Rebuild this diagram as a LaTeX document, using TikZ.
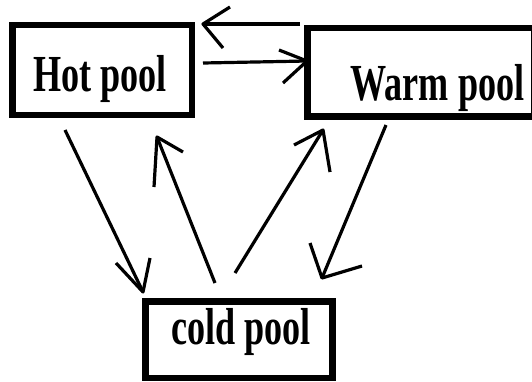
\documentclass[tikz,border=0pt]{standalone}
\usepackage{fontspec}
\setmainfont{Liberation Serif}
\usepackage{graphicx}
\tikzset{
  box/.style={draw=black, line width=6.5pt, rectangle, inner sep=0pt, fill=none},
  lbl/.style={anchor=base, inner sep=0pt, font=\bfseries},
  conn/.style={draw=black, line width=3.2pt, line join=round}
}
\newcommand{\pooltext}[1]{\scalebox{0.695}[1]{\fontsize{52}{52}\selectfont\bfseries #1}}
\begin{document}
\begin{tikzpicture}[x=1pt,y=-1pt]
\useasboundingbox (0,0) rectangle (532,381);
\clip (0,0) rectangle (532,381);
% boxes
\node[box, minimum width=179.5pt, minimum height=90pt] (hot) at (102.25,70) {};
\node[box, minimum width=226.5pt, minimum height=88.5pt] (warm) at (420.75,72.25) {};
\node[box, minimum width=187pt, minimum height=76.5pt] (cold) at (239,339.75) {};
% labels
\node[lbl] (hotl) at (100,91) {\pooltext{Hot pool}};
\node[lbl] (warml) at (437.5,100) {\pooltext{Warm pool}};
\node[lbl] (coldl) at (241,344) {\pooltext{cold pool}};
% arrow coordinates
\coordinate (s1) at (300,24);  \coordinate (t1) at (203,24);
\coordinate (b1a) at (230,7);  \coordinate (b1b) at (223,48);
\coordinate (s2) at (203,63);  \coordinate (t2) at (307,61);
\coordinate (b2a) at (279,50); \coordinate (b2b) at (283,83);
\coordinate (s3) at (65,130);  \coordinate (t3) at (143,292);
\coordinate (b3a) at (116,263); \coordinate (b3b) at (150,258);
\coordinate (s4) at (215,283); \coordinate (t4) at (157,137);
\coordinate (b4a) at (183,152); \coordinate (b4b) at (154,187);
\coordinate (s5) at (235,273); \coordinate (t5) at (323,130);
\coordinate (b5a) at (294,145); \coordinate (b5b) at (330,172);
\coordinate (s6) at (386,125); \coordinate (t6) at (322,278);
\coordinate (b6a) at (310,243); \coordinate (b6b) at (362,266);
% arrows: warm->hot, hot->warm, hot->cold, cold->hot, cold->warm, warm->cold
\foreach \i in {1,...,6}{
  \draw[conn] (s\i) -- (t\i);
  \draw[conn] (b\i a) -- (t\i) -- (b\i b);
}
\end{tikzpicture}
\end{document}
